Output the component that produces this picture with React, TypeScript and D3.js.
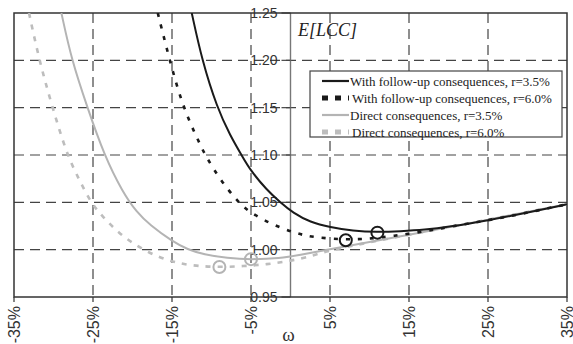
import React, { useRef, useEffect } from 'react';
import * as d3 from 'd3';

// omega (%) and E[LCC]
const followUp35X = [-12.5, -11.2, -9.3, -7.6, -6.2, -5.1, -3.0, -1.3, 0.3, 2.5, 5, 7.9, 10.9, 13.9, 17, 20, 25, 30, 35];
const followUp35Y = [1.25, 1.2, 1.15, 1.12, 1.1, 1.084, 1.063, 1.05, 1.039, 1.029, 1.0236, 1.02, 1.0185, 1.0195, 1.021, 1.024, 1.031, 1.039, 1.048];

const followUp60X = [-16.8, -15.3, -13.6, -11.5, -10.8, -8.9, -6.6, -5.1, -2.2, 0.8, 2.9, 7, 10, 13, 16.8, 20, 25, 30, 35];
const followUp60Y = [1.25, 1.2, 1.15, 1.112, 1.1, 1.0736, 1.05, 1.039, 1.026, 1.017, 1.013, 1.0105, 1.0115, 1.0145, 1.019, 1.024, 1.031, 1.039, 1.048];

const direct35X = [-29.0, -27.7, -25.7, -23.6, -21.2, -19.5, -17.8, -15.0, -13.0, -11.0, -8.0, -5, -1.3, 1, 5, 10, 15, 20, 25, 30, 35];
const direct35Y = [1.25, 1.2, 1.15, 1.1, 1.06, 1.04, 1.026, 1.009, 1.0, 0.995, 0.991, 0.9895, 0.991, 0.994, 1.0004, 1.008, 1.0158, 1.0238, 1.0317, 1.0398, 1.048];

const direct60X = [-33.1, -31.8, -30.3, -28.3, -26.8, -25.3, -23.8, -21.8, -19.5, -17, -14.5, -12, -9, -6, -3, 0, 3, 5, 10, 15, 20, 25, 30, 35];
const direct60Y = [1.25, 1.2, 1.155, 1.1, 1.075, 1.05, 1.035, 1.018, 1.004, 0.993, 0.986, 0.9828, 0.9815, 0.9825, 0.9845, 0.988, 0.994, 0.9995, 1.0078, 1.0158, 1.0238, 1.0317, 1.0398, 1.048];

// optimum markers
const minimaX = [11, 7, -5, -9];
const minimaY = [1.018, 1.01, 0.99, 0.9817];

const xTicks = [-35, -25, -15, -5, 5, 15, 25, 35];
const yTicks = [0.95, 1.0, 1.05, 1.1, 1.15, 1.2, 1.25];

const seriesLabels = [
  'With follow-up consequences, r=3.5%',
  'With follow-up consequences, r=6.0%',
  'Direct consequences, r=3.5%',
  'Direct consequences, r=6.0%',
];

const App: React.FC = () => {
  const svgRef = useRef<SVGSVGElement>(null);
  const width = 573;
  const height = 344;

  useEffect(() => {
    if (!svgRef.current) return;
    const svg = d3.select(svgRef.current);
    svg.selectAll('*').remove();

    const x = d3.scaleLinear().domain([-35, 35]).range([14, 567]);
    const y = d3.scaleLinear().domain([0.95, 1.25]).range([297, 13]);

    const styles = [
      { color: '#1a1a1a', width: 2, dash: null },
      { color: '#1a1a1a', width: 2.6, dash: '4,8' },
      { color: '#b4b4b4', width: 2, dash: null },
      { color: '#bdbdbd', width: 2.6, dash: '5,7' },
    ];

    svg.append('rect').attr('width', width).attr('height', height).attr('fill', '#fff');

    // grid lines
    const grid = svg.append('g').attr('stroke', '#444').attr('stroke-width', 1.2).attr('stroke-dasharray', '10,6');
    xTicks.slice(1, -1).forEach((t) => {
      grid.append('line').attr('x1', x(t)).attr('x2', x(t)).attr('y1', y(1.25)).attr('y2', y(0.95));
    });
    yTicks.slice(1, -1).forEach((t) => {
      grid.append('line').attr('x1', x(-35)).attr('x2', x(35)).attr('y1', y(t)).attr('y2', y(t));
    });

    // y axis at omega = 0
    svg.append('line')
      .attr('x1', x(0)).attr('x2', x(0))
      .attr('y1', y(1.25)).attr('y2', y(0.95))
      .attr('stroke', '#777').attr('stroke-width', 1.4);

    const yTickG = svg.append('g');
    yTicks.forEach((t) => {
      yTickG.append('line')
        .attr('x1', x(0) - 9).attr('x2', x(0))
        .attr('y1', y(t)).attr('y2', y(t))
        .attr('stroke', '#444').attr('stroke-width', 1.2);
      yTickG.append('text')
        .attr('x', x(0) - 13)
        .attr('y', y(t))
        .attr('dy', '0.36em')
        .attr('text-anchor', 'end')
        .attr('font-family', 'Liberation Sans, Arial, sans-serif')
        .attr('font-size', 14)
        .attr('fill', '#333')
        .text(t.toFixed(2));
    });

    // frame
    svg.append('rect')
      .attr('x', x(-35)).attr('y', y(1.25))
      .attr('width', x(35) - x(-35)).attr('height', y(0.95) - y(1.25))
      .attr('fill', 'none').attr('stroke', '#333').attr('stroke-width', 1.5);

    // x ticks + rotated labels
    const xTickG = svg.append('g');
    xTicks.forEach((t) => {
      xTickG.append('line')
        .attr('x1', x(t)).attr('x2', x(t))
        .attr('y1', y(0.95)).attr('y2', y(0.95) + 5)
        .attr('stroke', '#333').attr('stroke-width', 1.2);
      xTickG.append('text')
        .attr('transform', `translate(${x(t)},${y(0.95) + 9}) rotate(-90)`)
        .attr('dy', '0.36em')
        .attr('text-anchor', 'end')
        .attr('font-family', 'Liberation Sans, Arial, sans-serif')
        .attr('font-size', 16)
        .attr('fill', '#333')
        .text(`${t}%`);
    });

    svg.append('text')
      .attr('x', x(0) - 2)
      .attr('y', 341)
      .attr('text-anchor', 'middle')
      .attr('font-family', 'Liberation Serif, Times New Roman, serif')
      .attr('font-size', 19)
      .attr('fill', '#333')
      .text('ω');

    // curves
    svg.append('clipPath').attr('id', 'plotClip')
      .append('rect')
      .attr('x', x(-35)).attr('y', y(1.25))
      .attr('width', x(35) - x(-35)).attr('height', y(0.95) - y(1.25));

    const line = d3.line<[number, number]>()
      .x((d) => x(d[0]))
      .y((d) => y(d[1]))
      .curve(d3.curveBasis);

    const series: [number, number][][] = [
      followUp35X.map((v, i) => [v, followUp35Y[i]]),
      followUp60X.map((v, i) => [v, followUp60Y[i]]),
      direct35X.map((v, i) => [v, direct35Y[i]]),
      direct60X.map((v, i) => [v, direct60Y[i]]),
    ];

    const curves = svg.append('g').attr('clip-path', 'url(#plotClip)');
    // draw direct first, follow-up on top
    [3, 2, 1, 0].forEach((i) => {
      const p = curves.append('path')
        .datum(series[i])
        .attr('d', line)
        .attr('fill', 'none')
        .attr('stroke', styles[i].color)
        .attr('stroke-width', styles[i].width);
      if (styles[i].dash) p.attr('stroke-dasharray', styles[i].dash);
    });

    // optimum circles
    minimaX.forEach((v, i) => {
      svg.append('circle')
        .attr('cx', x(v))
        .attr('cy', y(minimaY[i]))
        .attr('r', 6)
        .attr('fill', 'none')
        .attr('stroke', i < 2 ? '#1a1a1a' : '#b4b4b4')
        .attr('stroke-width', 2);
    });

    // title
    svg.append('text')
      .attr('x', 298)
      .attr('y', 36)
      .attr('font-family', 'Liberation Serif, Times New Roman, serif')
      .attr('font-style', 'italic')
      .attr('font-size', 18)
      .attr('fill', '#222')
      .text('E[LCC]');

    // legend
    const legend = svg.append('g');
    legend.append('rect')
      .attr('x', 310).attr('y', 71)
      .attr('width', 252).attr('height', 66)
      .attr('fill', '#fff').attr('stroke', '#444').attr('stroke-width', 1.2);

    seriesLabels.forEach((label, i) => {
      const ly = 81 + i * 17;
      const s = legend.append('line')
        .attr('x1', 322).attr('x2', 349)
        .attr('y1', ly).attr('y2', ly)
        .attr('stroke', styles[i].color)
        .attr('stroke-width', styles[i].dash ? 5 : 2.2);
      if (styles[i].dash) s.attr('stroke-dasharray', '6,7');
      legend.append('text')
        .attr('x', styles[i].dash ? 352 : 350)
        .attr('y', ly)
        .attr('dy', '0.35em')
        .attr('font-family', 'Liberation Serif, Times New Roman, serif')
        .attr('font-size', 13)
        .attr('fill', '#222')
        .text(label);
    });
  }, []);

  return (
    <svg
      ref={svgRef}
      width={width}
      height={height}
      style={{ position: 'absolute', left: 0, top: 0, display: 'block' }}
    />
  );
};

export default App;
